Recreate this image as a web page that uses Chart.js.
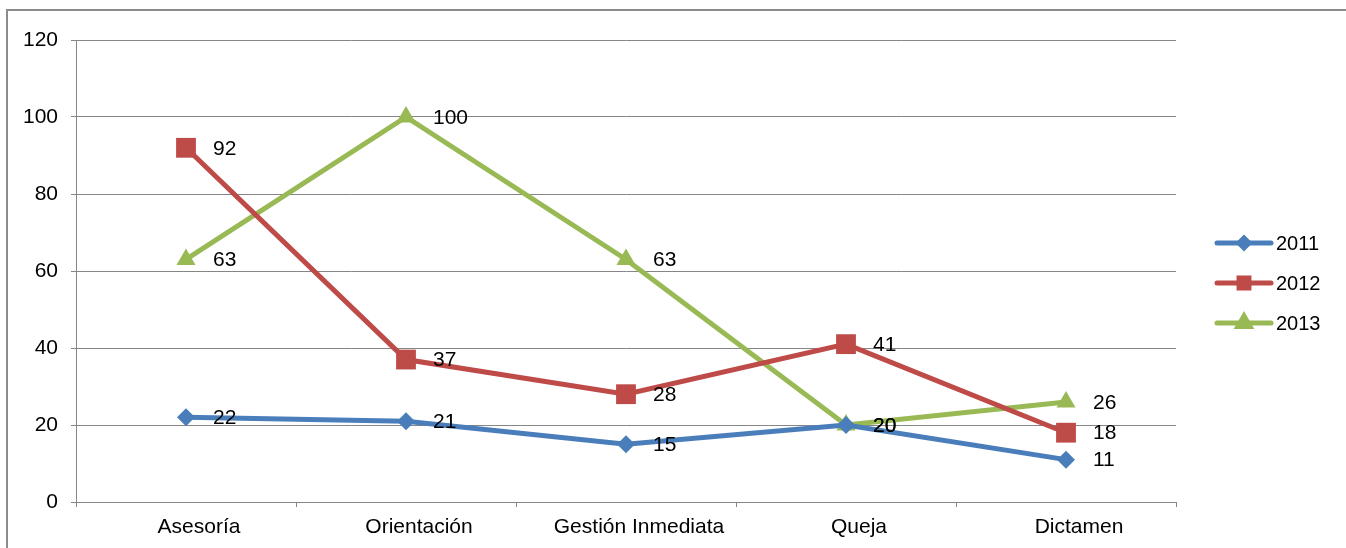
<!DOCTYPE html>
<html>
<head>
<meta charset="utf-8">
<script src="https://cdn.jsdelivr.net/npm/chart.js@4.4.1/dist/chart.umd.min.js"></script>
<style>
  html, body { margin: 0; padding: 0; background: #fff; overflow: hidden; }
  #wrap { position: relative; width: 1346px; height: 548px; }
  #frame { position: absolute; left: 6px; top: 9px; width: 1400px; height: 600px;
           border-left: 2px solid #8c8c8c; border-top: 2px solid #8c8c8c; box-sizing: border-box; }
  canvas { position: absolute; left: 0; top: 0; }
</style>
</head>
<body>
<div id="wrap">
  <div id="frame"></div>
  <canvas id="c" width="1346" height="548"></canvas>
</div>
<script>
const categories = ["Asesoría", "Orientación", "Gestión Inmediata", "Queja", "Dictamen"];
const series2011 = [22, 21, 15, 20, 11];
const series2012 = [92, 37, 28, 41, 18];
const series2013 = [63, 100, 63, 20, 26];
const seriesNames = ["2011", "2012", "2013"];
const yTicks = [0, 20, 40, 60, 80, 100, 120];

const COLORS = ["#4A7EBB", "#BE4B48", "#98B954"];
const FONT = "'Liberation Sans', Arial, sans-serif";

const dataLabels = {
  id: 'dataLabels',
  afterDatasetsDraw(chart) {
    const ctx = chart.ctx;
    ctx.save();
    ctx.font = "21px " + FONT;
    ctx.fillStyle = "#000";
    ctx.textAlign = "left";
    ctx.textBaseline = "middle";
    chart.data.datasets.forEach((ds, i) => {
      const meta = chart.getDatasetMeta(i);
      meta.data.forEach((pt, j) => {
        ctx.fillText(String(ds.data[j]), pt.x + 27, pt.y + 1);
      });
    });
    ctx.restore();
  }
};

const customLegend = {
  id: 'customLegend',
  afterDraw(chart) {
    const ctx = chart.ctx;
    ctx.save();
    const x0 = 1217, x1 = 1271, xm = 1244;
    const ys = [243, 283, 323];
    const styles = ['rectRot', 'rect', 'triangle'];
    const radii = [5, 7, 7];
    seriesNames.forEach((name, i) => {
      const y = ys[i];
      ctx.strokeStyle = COLORS[i];
      ctx.lineWidth = 5;
      ctx.lineCap = 'round';
      ctx.beginPath();
      ctx.moveTo(x0, y);
      ctx.lineTo(x1, y);
      ctx.stroke();
      Chart.helpers.drawPoint(ctx, { pointStyle: styles[i], radius: radii[i], borderWidth: 1 }, xm, y);
      ctx.fillStyle = COLORS[i];
      ctx.fill();
      ctx.fillStyle = "#000";
      ctx.font = "20px " + FONT;
      ctx.textAlign = "left";
      ctx.textBaseline = "middle";
      ctx.fillText(name, 1276, y + 1);
    });
    ctx.restore();
  }
};

function ds(label, data, color, style, radius) {
  return {
    label, data,
    borderColor: color, backgroundColor: color,
    borderWidth: 5,
    pointStyle: style, pointRadius: radius, pointHoverRadius: radius,
    pointBorderWidth: 0,
    tension: 0
  };
}

new Chart(document.getElementById('c'), {
  type: 'line',
  data: {
    labels: categories,
    datasets: [
      ds(seriesNames[0], series2011, COLORS[0], 'rectRot', 9),
      ds(seriesNames[1], series2012, COLORS[1], 'rect', 14),
      ds(seriesNames[2], series2013, COLORS[2], 'triangle', 11)
    ]
  },
  options: {
    responsive: false,
    animation: false,
    events: [],
    layout: { padding: { left: 0, right: 170, top: 40, bottom: 0 } },
    plugins: { legend: { display: false }, tooltip: { enabled: false } },
    scales: {
      x: {
        offset: true,
        afterFit(scale) { scale.height = 46; },
        grid: { offset: true, drawOnChartArea: false, drawTicks: true, tickLength: 5, color: "#868686", lineWidth: 1 },
        border: { display: true, color: "#868686", width: 1 },
        ticks: { color: "#000", font: { family: FONT, size: 21 }, padding: 8, labelOffset: 13, maxRotation: 0, autoSkip: false }
      },
      y: {
        min: 0, max: 120,
        afterFit(scale) { scale.width = 76; },
        afterBuildTicks(scale) { scale.ticks = yTicks.map(v => ({ value: v })); },
        grid: { drawOnChartArea: true, drawTicks: true, tickLength: 5, color: "#868686", lineWidth: 1 },
        border: { display: true, color: "#868686", width: 1 },
        ticks: { color: "#000", font: { family: FONT, size: 21 }, padding: 13 }
      }
    }
  },
  plugins: [dataLabels, customLegend]
});
</script>
</body>
</html>
